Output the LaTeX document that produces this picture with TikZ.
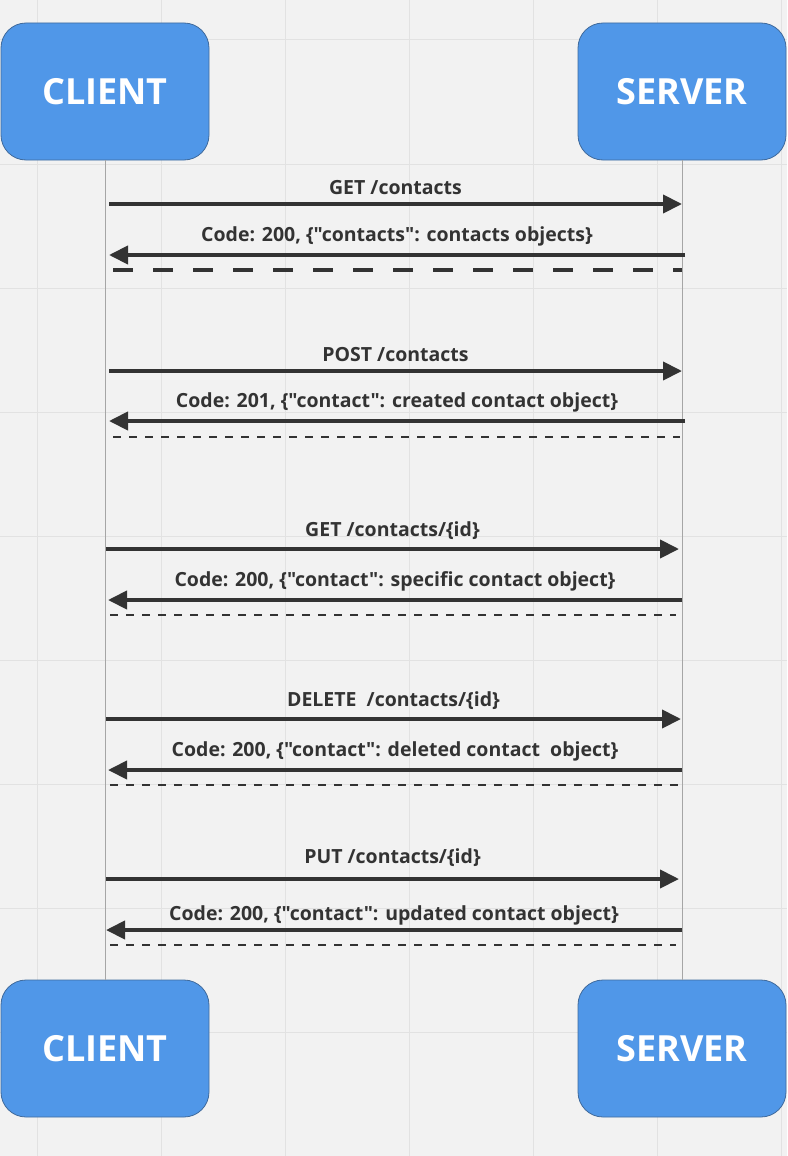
\documentclass[tikz,border=0pt]{standalone}
\usepackage{fontspec}
\setmainfont{Open Sans}[Ligatures=TeXOff]
\usetikzlibrary{arrows.meta}
\definecolor{bgcol}{HTML}{F2F2F2}
\definecolor{gridcol}{HTML}{E2E2E2}
\definecolor{boxblue}{HTML}{5097E8}
\definecolor{boxline}{HTML}{3F6A9C}
\definecolor{inkcol}{HTML}{333333}
\definecolor{lifecol}{HTML}{A6A6A6}
\tikzset{
  actor/.style={draw=boxline,line width=0.8pt,fill=boxblue,rounded corners=25pt,
    minimum width=208pt,minimum height=137pt,text=white,
    font=\fontsize{36}{40}\selectfont\bfseries},
  msg/.style={inkcol,line width=4pt,-{Triangle[length=19pt,width=18pt]}},
  lbl/.style={midway,above=7pt,inner sep=0pt,text=inkcol,
    font=\fontsize{19.5}{22}\selectfont\bfseries},
  endthick/.style={inkcol,line width=4pt,dash pattern=on 20pt off 20pt},
  endthin/.style={inkcol,line width=1.6pt,dash pattern=on 8pt off 8pt}
}
\begin{document}
\begin{tikzpicture}[x=1pt,y=-1pt]
  \fill[bgcol] (0,0) rectangle (787,1156);
  \useasboundingbox (0,0) rectangle (787,1156);
  % background grid
  \foreach \gx in {37.5,161.5,285.5,409.5,533.5,657.5,781.5}
    \draw[gridcol,line width=1pt] (\gx,0) -- (\gx,1156);
  \foreach \gy in {40,164,288,412,536,660,784,908,1032}
    \draw[gridcol,line width=1pt] (0,\gy) -- (787,\gy);

  \node[actor] (clientTop) at (105,91.5) {CLIENT};
  \node[actor] (serverTop) at (682,91.5) {SERVER};
  \node[actor] (clientBot) at (105,1048.5) {CLIENT};
  \node[actor] (serverBot) at (682,1048.5) {SERVER};

  % lifelines
  \draw[lifecol,line width=1pt] (clientTop) -- (clientBot);
  \draw[lifecol,line width=1pt] (serverTop) -- (serverBot);

  % GET all
  \draw[msg] ([xshift=4pt]clientTop.south |- 0,204) -- (serverTop.south |- 0,204) node[lbl]{GET /contacts};
  \draw[msg] ([xshift=3pt]serverTop.south |- 0,255) -- ([xshift=4pt]clientTop.south |- 0,255) node[lbl]{Code: 200, \{"contacts": contacts objects\}};
  \draw[endthick] ([xshift=8pt]clientTop.south |- 0,270) -- (serverTop.south |- 0,270);

  % POST
  \draw[msg] ([xshift=4pt]clientTop.south |- 0,371) -- (serverTop.south |- 0,371) node[lbl]{POST /contacts};
  \draw[msg] ([xshift=3pt]serverTop.south |- 0,421) -- ([xshift=4pt]clientTop.south |- 0,421) node[lbl]{Code: 201, \{"contact": created contact object\}};
  \draw[endthin] ([xshift=8pt]clientTop.south |- 0,437) -- ([xshift=-2pt]serverTop.south |- 0,437);

  % GET one
  \draw[msg] ([xshift=1pt]clientTop.south |- 0,549) -- ([xshift=-3pt]serverTop.south |- 0,549) node[lbl]{GET /contacts/\{id\}};
  \draw[msg] (serverTop.south |- 0,600) -- ([xshift=3pt]clientTop.south |- 0,600) node[lbl]{Code: 200, \{"contact": specific contact object\}};
  \draw[endthin] ([xshift=5pt]clientTop.south |- 0,615) -- ([xshift=-6pt]serverTop.south |- 0,615);

  % DELETE
  \draw[msg] ([xshift=1pt]clientTop.south |- 0,719) -- ([xshift=-1pt]serverTop.south |- 0,719) node[lbl]{DELETE\ \ /contacts/\{id\}};
  \draw[msg] (serverTop.south |- 0,770) -- ([xshift=3pt]clientTop.south |- 0,770) node[lbl]{Code: 200, \{"contact": deleted contact\ \ object\}};
  \draw[endthin] ([xshift=5pt]clientTop.south |- 0,785) -- ([xshift=-4pt]serverTop.south |- 0,785);

  % PUT
  \draw[msg] ([xshift=1pt]clientTop.south |- 0,879) -- ([xshift=-3pt]serverTop.south |- 0,879) node[lbl,yshift=3pt]{PUT /contacts/\{id\}};
  \draw[msg] (serverTop.south |- 0,930) -- ([xshift=1pt]clientTop.south |- 0,930) node[lbl,yshift=-4pt]{Code: 200, \{"contact": updated contact object\}};
  \draw[endthin] ([xshift=5pt]clientTop.south |- 0,945) -- ([xshift=-6pt]serverTop.south |- 0,945);
\end{tikzpicture}
\end{document}
